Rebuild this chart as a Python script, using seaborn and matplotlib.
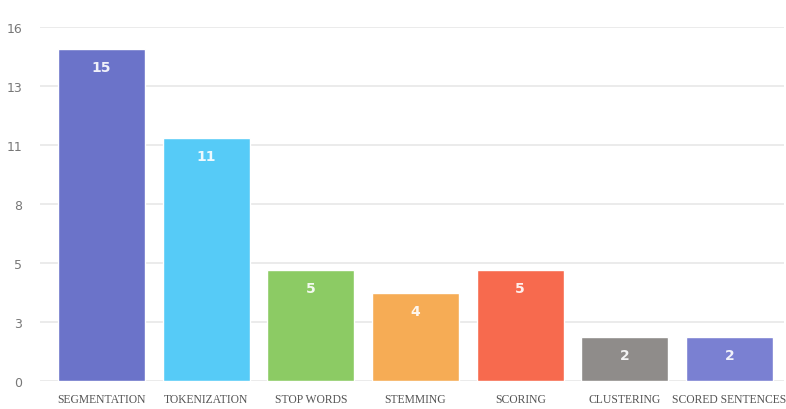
import numpy as np
import pandas as pd
import matplotlib
matplotlib.use("Agg")
import matplotlib.pyplot as plt
import seaborn as sns

# dados do grafico
categories = ["SEGMENTATION", "TOKENIZATION", "STOP WORDS", "STEMMING",
              "SCORING", "CLUSTERING", "SCORED SENTENCES"]
counts = [15, 11, 5, 4, 5, 2, 2]
bar_colors = ["#6b73c9", "#56cbf7", "#8ccb64", "#f6ac55",
              "#f76a4e", "#8f8c8a", "#7a80d2"]
y_ticks = [0, 16 / 6, 32 / 6, 8, 64 / 6, 80 / 6, 16]
y_tick_labels = ["0", "3", "5", "8", "11", "13", "16"]

sns.set_theme(style="white")

df = pd.DataFrame({"etapa": categories, "n": counts})

fig = plt.figure(figsize=(7.86, 4.10), dpi=100)
ax = fig.add_axes([40 / 786, 28 / 410, 744 / 786, 354 / 410])

sns.barplot(data=df, x="etapa", y="n", hue="etapa", palette=bar_colors,
            width=0.83, saturation=1, legend=False, ax=ax)

ax.set_ylim(0, 16)
ax.set_xlim(-0.587, 6.52)
ax.set_yticks(y_ticks)
ax.set_yticklabels(y_tick_labels, fontsize=9, color="#777777")
ax.grid(True, axis="y", color="#e8e8e8", linewidth=1.2)
ax.set_axisbelow(True)
for s in ax.spines.values():
    s.set_visible(False)
ax.tick_params(axis="both", length=0)
ax.tick_params(axis="y", pad=13)
ax.tick_params(axis="x", pad=9)
ax.set_xlabel("")
ax.set_ylabel("")
for lbl in ax.get_xticklabels():
    lbl.set_fontfamily("Liberation Serif")
    lbl.set_fontsize(8.4)
    lbl.set_color("#555555")

# valores dentro das barras
for i, v in enumerate(counts):
    ax.text(i, v - 0.5, str(v), ha="center", va="top", color="white",
            fontsize=10, fontweight="semibold", alpha=0.9)

fig.savefig("out.png", dpi=100, facecolor="white")
